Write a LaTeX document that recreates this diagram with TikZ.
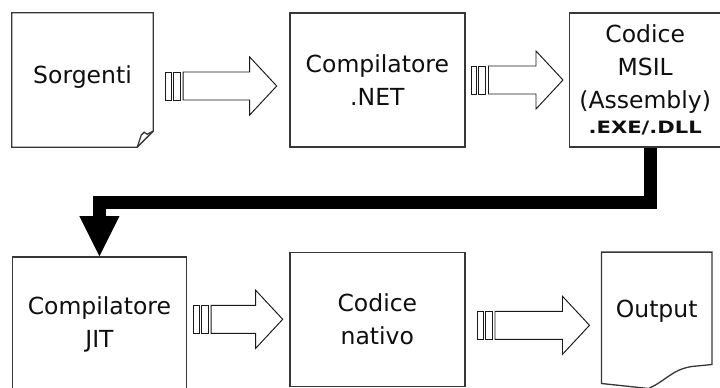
\documentclass[tikz,border=0pt]{standalone}
\usepackage{fontspec}
\setmainfont{DejaVu Sans}
\usepackage{graphicx}
\usetikzlibrary{arrows.meta,positioning,calc}
\definecolor{boxbdr}{RGB}{55,55,55}
\definecolor{arrclr}{RGB}{25,25,25}
\definecolor{txtclr}{RGB}{15,15,15}
\tikzset{
  %% process block
  pblk/.style={rectangle,draw=boxbdr,line width=1.3pt,fill=white,
    minimum height=134pt,align=center,inner sep=0pt,text=txtclr,
    font=\fontsize{23.5}{33}\selectfont},
  %% document block (outline drawn apart)
  dblk/.style={rectangle,minimum height=134pt,align=center,inner sep=0pt,
    text=txtclr,font=\fontsize{23.5}{33}\selectfont},
  docline/.style={draw=boxbdr,line width=1.3pt,line join=miter},
  %% hollow striped arrow
  hol/.style={draw=arrclr,line width=0.95pt,fill=white,line join=miter},
  %% heavy connector
  fat/.style={draw=black,line width=13.5pt,line join=miter,
    -{Triangle[length=40pt,width=40pt,line width=0pt]}},
}
%% striped block arrow: from, to, gap, y shift
\newcommand{\hollowarrow}[4]{%
  \coordinate (ha) at ($(#1.east |- #2.west)+(#3,#4)$);
  \coordinate (hb) at ($(#2.west)+(-#3,#4)$);
  \draw[hol] ($(ha)+(0,-14)$) rectangle ($(ha)+(5.5,14)$);
  \draw[hol] ($(ha)+(7.5,-14)$) rectangle ($(ha)+(14.5,14)$);
  \draw[hol] ($(ha)+(17.5,-14)$) -- ($(hb)+(-27,-14)$) -- ($(hb)+(-27,-29)$)
    -- (hb) -- ($(hb)+(-27,29)$) -- ($(hb)+(-27,14)$) -- ($(ha)+(17.5,14)$) -- cycle;
}
\begin{document}
\begin{tikzpicture}[x=1pt,y=-1pt]
  \useasboundingbox[fill=white] (0,0) rectangle (720,388);

  \node[dblk,minimum width=141pt,text depth=11pt] (src) at (82.5,80) {Sorgenti};
  \node[pblk,minimum width=175pt,right=136pt of src] (net) {Compilatore\\.NET};
  \node[pblk,minimum width=152pt,right=103pt of net] (msil)
    {Codice\\MSIL\\(Assembly)\\[-7.6pt]{\fontsize{17}{18}\selectfont\bfseries\scalebox{1.24}[1]{.EXE/.DLL}}};
  \node[pblk,minimum width=174pt,minimum height=136pt,
    below=109pt of src.south west,anchor=north west] (jit) {Compilatore\\JIT};
  \node[pblk,minimum width=175pt,below=104pt of net] (nat) {Codice\\nativo};
  \node[dblk,minimum width=110pt,text depth=21pt,right=136pt of nat] (out) {Output};

  %% page outlines
  \draw[docline] (src.north west) -- (src.north east) -- ($(src.south east)+(0,-16)$)
    -- ($(src.south east)+(-16,0)$) -- (src.south west) -- cycle;
  \draw[docline] ($(src.south east)+(-16,0)$) -- ($(src.south east)+(-12,-12)$)
    -- ($(src.south east)+(-9,-15)$) -- ($(src.south east)+(-6,-13)$) -- ($(src.south east)+(0,-16)$);
  \draw[docline] (out.north west) -- (out.north east) -- ($(out.south east)+(0,-22)$)
    -- ($(out.south east)+(-20,-20)$) .. controls +(-20,3) and +(18,-8) .. ($(out.south west)+(47,2)$)
    -- ($(out.south west)+(0,-3)$) -- cycle;

  \hollowarrow{src}{net}{12.5}{6}
  \hollowarrow{net}{msil}{5.5}{0}
  \hollowarrow{jit}{nat}{6.5}{0}
  \hollowarrow{nat}{out}{12}{6}

  \draw[fat] ([xshift=5.5pt]msil.south) -- ++(0,55) -| (jit.north);
\end{tikzpicture}
\end{document}
